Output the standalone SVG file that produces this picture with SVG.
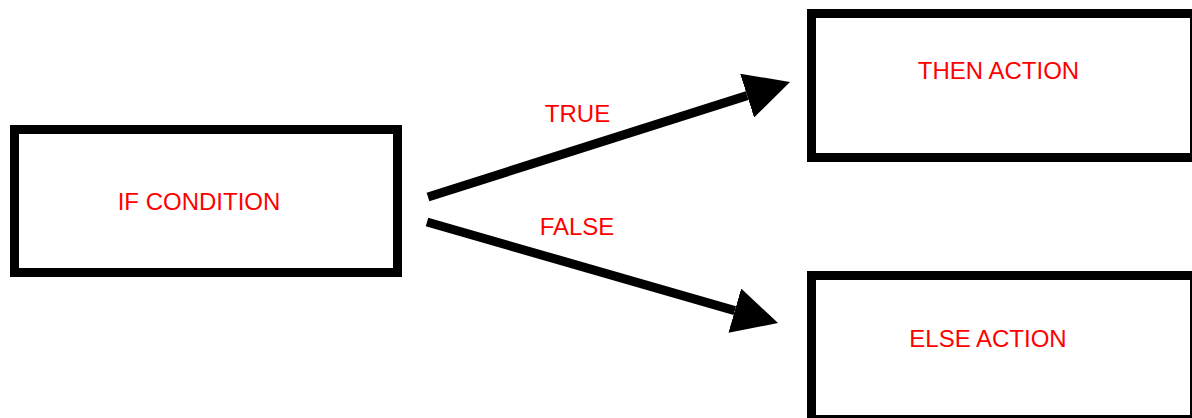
<svg xmlns="http://www.w3.org/2000/svg" width="1192" height="418" viewBox="0 0 1192 418">
<style>
.box{fill:#ffffff;stroke:#000000;stroke-width:9}
.lbl{font-family:"Liberation Sans",Arial,sans-serif;font-size:24px;fill:#ff0000;text-anchor:middle}
.conn{stroke:#000000;stroke-width:9;fill:none}
</style>
<defs>
<marker id="ah" viewBox="0 0 45 46" refX="0" refY="23" markerWidth="45" markerHeight="46" markerUnits="userSpaceOnUse" orient="auto">
<path d="M0,0 L45,23 L0,46 Z" fill="#000000"/>
</marker>
</defs>
<rect width="1192" height="418" fill="#ffffff"/>
<g id="if-condition">
<rect class="box" x="14.5" y="129.5" width="383" height="143"/>
<text class="lbl" x="199" y="210">IF CONDITION</text>
</g>
<g id="then-action">
<rect class="box" x="811.5" y="13.5" width="383" height="144"/>
<text class="lbl" x="998.5" y="79">THEN ACTION</text>
</g>
<g id="else-action">
<rect class="box" x="811.5" y="275.5" width="383" height="144"/>
<text class="lbl" x="988" y="347">ELSE ACTION</text>
</g>
<g id="connectors">
<line class="conn" x1="428" y1="197" x2="747.1" y2="95.6" marker-end="url(#ah)"/>
<line class="conn" x1="427" y1="222" x2="734.8" y2="310.6" marker-end="url(#ah)"/>
<text class="lbl" x="577.5" y="122">TRUE</text>
<text class="lbl" x="577" y="235">FALSE</text>
</g>
</svg>
